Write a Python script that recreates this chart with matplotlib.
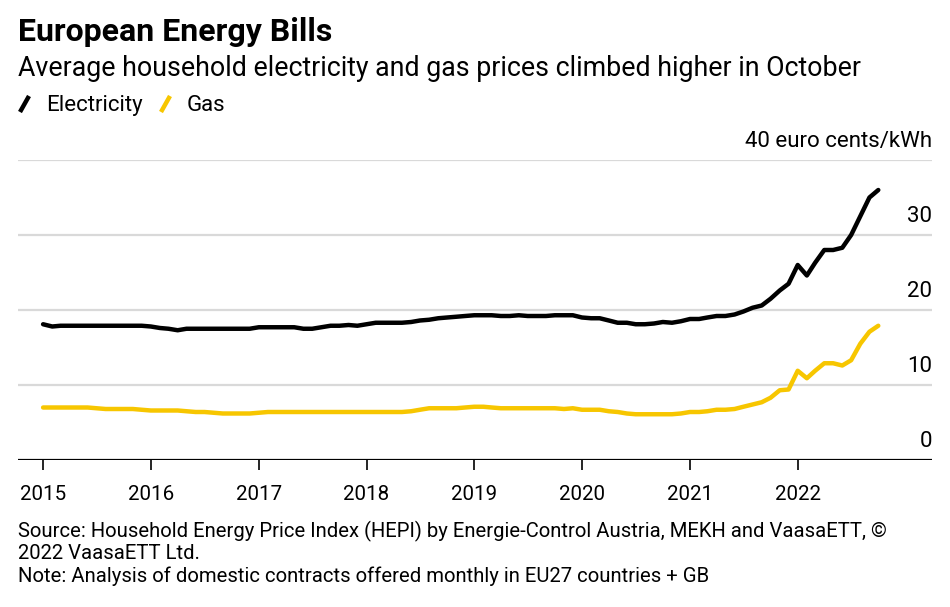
import numpy as np
import pandas as pd
import matplotlib
matplotlib.use("Agg")
import matplotlib.pyplot as plt
from matplotlib.lines import Line2D
from matplotlib.transforms import blended_transform_factory, offset_copy

# monthly averages, Jan 2015 - Oct 2022, euro cents/kWh
months = pd.date_range("2015-01-01", "2022-10-01", freq="MS")

electricity = [
    18.1, 17.8, 17.9, 17.9, 17.9, 17.9, 17.9, 17.9, 17.9, 17.9, 17.9, 17.9,  # 2015
    17.8, 17.6, 17.5, 17.3, 17.5, 17.5, 17.5, 17.5, 17.5, 17.5, 17.5, 17.5,  # 2016
    17.7, 17.7, 17.7, 17.7, 17.7, 17.5, 17.5, 17.7, 17.9, 17.9, 18.0, 17.9,  # 2017
    18.1, 18.3, 18.3, 18.3, 18.3, 18.4, 18.6, 18.7, 18.9, 19.0, 19.1, 19.2,  # 2018
    19.3, 19.3, 19.3, 19.2, 19.2, 19.3, 19.2, 19.2, 19.2, 19.3, 19.3, 19.3,  # 2019
    19.0, 18.9, 18.9, 18.6, 18.3, 18.3, 18.1, 18.1, 18.2, 18.4, 18.3, 18.5,  # 2020
    18.8, 18.8, 19.0, 19.2, 19.2, 19.4, 19.8, 20.3, 20.6, 21.5, 22.6, 23.5,  # 2021
    26.0, 24.6, 26.3, 28.0, 28.0, 28.3, 30.0, 32.5, 35.0, 36.0,              # 2022
]

gas = [
    7.0, 7.0, 7.0, 7.0, 7.0, 7.0, 6.9, 6.8, 6.8, 6.8, 6.8, 6.7,  # 2015
    6.6, 6.6, 6.6, 6.6, 6.5, 6.4, 6.4, 6.3, 6.2, 6.2, 6.2, 6.2,  # 2016
    6.3, 6.4, 6.4, 6.4, 6.4, 6.4, 6.4, 6.4, 6.4, 6.4, 6.4, 6.4,  # 2017
    6.4, 6.4, 6.4, 6.4, 6.4, 6.5, 6.7, 6.9, 6.9, 6.9, 6.9, 7.0,  # 2018
    7.1, 7.1, 7.0, 6.9, 6.9, 6.9, 6.9, 6.9, 6.9, 6.9, 6.8, 6.9,  # 2019
    6.7, 6.7, 6.7, 6.5, 6.4, 6.2, 6.1, 6.1, 6.1, 6.1, 6.1, 6.2,  # 2020
    6.4, 6.4, 6.5, 6.7, 6.7, 6.8, 7.1, 7.4, 7.7, 8.3, 9.3, 9.4,  # 2021
    11.9, 10.9, 11.9, 12.9, 12.9, 12.6, 13.3, 15.5, 17.1, 17.9,  # 2022
]

years = list(range(2015, 2023))
y_ticks = [0, 10, 20, 30, 40]

plt.rcParams["font.family"] = ["Roboto", "DejaVu Sans"]

BLACK = "#000000"
YELLOW = "#F7C600"
GRID = "#d9d9d9"

fig = plt.figure(figsize=(9.5, 6.07), dpi=100)
ax = fig.add_axes([18 / 950, 147 / 607, 914 / 950, 300 / 607])

ax.plot(months, electricity, color=BLACK, lw=3.2, solid_capstyle="round", zorder=3)
ax.plot(months, gas, color=YELLOW, lw=3.2, solid_capstyle="round", zorder=3)

ax.set_ylim(0, 40)
ax.set_xlim(pd.Timestamp("2014-10-08"), pd.Timestamp("2023-04-01"))

for v in y_ticks[1:]:
    ax.axhline(v, color=GRID, lw=1.6, zorder=1)
ax.axhline(0, color=BLACK, lw=1.6, zorder=2)

for s in ax.spines.values():
    s.set_visible(False)

ax.set_yticks([])
ax.set_xticks([pd.Timestamp(f"{y}-01-01") for y in years])
ax.set_xticklabels([str(y) for y in years], fontsize=14.8)
ax.tick_params(axis="x", length=7, width=1.2, color=BLACK, pad=11)

# right-side value labels sitting above their gridlines
trans = blended_transform_factory(ax.transAxes, ax.transData)
trans = offset_copy(trans, fig=fig, x=0, y=8, units="dots")
for v in y_ticks:
    label = f"{v} euro cents/kWh" if v == 40 else str(v)
    ax.text(1.0, v, label, transform=trans, ha="right", va="bottom", fontsize=16)

# titles
fig.text(18 / 950, 1 - 41 / 607, "European Energy Bills", fontsize=23,
         fontweight="bold", ha="left", va="baseline")
fig.text(18 / 950, 1 - 76 / 607,
         "Average household electricity and gas prices climbed higher in October",
         fontsize=19.3, ha="left", va="baseline")

# legend with slanted strokes
for x0, color, label, tx in [(20, BLACK, "Electricity", 46), (161, YELLOW, "Gas", 187)]:
    fig.add_artist(Line2D([x0 / 950, (x0 + 9) / 950], [1 - 112 / 607, 1 - 96 / 607],
                          color=color, lw=3.2, solid_capstyle="butt"))
    fig.text(tx / 950, 1 - 111 / 607, label, fontsize=16, ha="left", va="baseline")

# footnotes
notes = [
    (537, "Source: Household Energy Price Index (HEPI) by Energie-Control Austria, MEKH and VaasaETT, \u00a9"),
    (559, "2022 VaasaETT Ltd."),
    (582, "Note: Analysis of domestic contracts offered monthly in EU27 countries + GB"),
]
for y, t in notes:
    fig.text(18 / 950, 1 - y / 607, t, fontsize=14.6, ha="left", va="baseline")

fig.savefig("out.png", dpi=100, facecolor="white")
